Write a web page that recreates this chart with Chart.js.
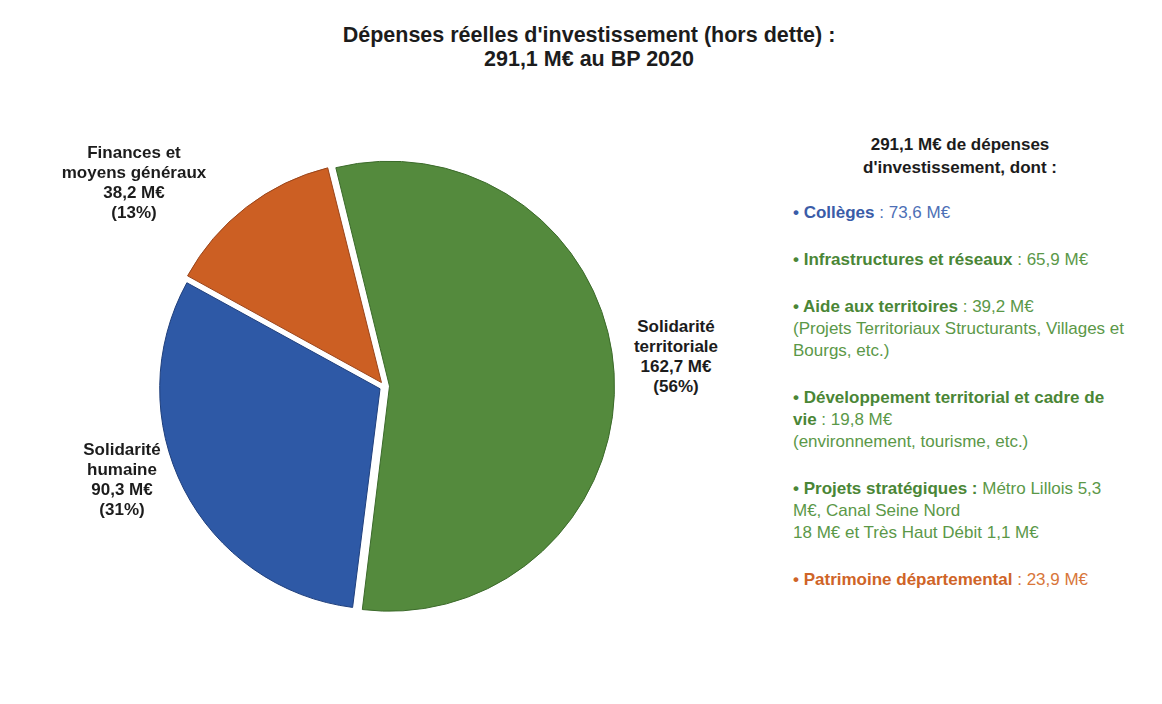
<!DOCTYPE html>
<html lang="fr">
<head>
<meta charset="utf-8">
<title>Dépenses réelles d'investissement – BP 2020</title>
<script src="https://cdn.jsdelivr.net/npm/chart.js@4.4.1/dist/chart.umd.min.js"></script>
<style>
  html, body { margin: 0; padding: 0; background: #ffffff; }
  #wrap { position: relative; width: 1162px; height: 704px; overflow: hidden;
          font-family: 'Liberation Sans', Arial, sans-serif; color: #1c1c1c; }
  #title { position: absolute; left: 0; top: 23px; width: 1178px; text-align: center;
           font-weight: bold; font-size: 21.5px; line-height: 24px; }
  #pieBox { position: absolute; left: 144px; top: 146px; width: 481px; height: 481px; }
  .lbl { position: absolute; transform: translateX(-50%); text-align: center;
         font-weight: bold; font-size: 17px; line-height: 20px; white-space: nowrap; }
  #panelHead { position: absolute; left: 840px; top: 133px; width: 240px; text-align: center;
               font-weight: bold; font-size: 17px; line-height: 23px; }
  #panel { position: absolute; left: 793px; top: 202px; width: 369px;
           font-size: 17px; line-height: 22px; }
  #panel .item { margin-bottom: 25px; white-space: nowrap; }
  #panel b { font-weight: bold; }
  .blue { color: #3a5ca8; } .blue span { color: #4d6fb6; }
  .green { color: #4a8636; } .green span { color: #5b9848; }
  .orange { color: #cf6427; } .orange span { color: #d8763a; }
</style>
</head>
<body>
<div id="wrap">
  <div id="title">Dépenses réelles d'investissement (hors dette) :<br>291,1 M€ au BP 2020</div>
  <div id="pieBox"><canvas id="pieChart"></canvas></div>
  <div id="labels"></div>
  <div id="panelHead">291,1 M€ de dépenses<br>d'investissement, dont :</div>
  <div id="panel">
    <div class="item blue"><b>• Collèges</b><span> : 73,6 M€</span></div>
    <div class="item green"><b>• Infrastructures et réseaux</b><span> : 65,9 M€</span></div>
    <div class="item green"><b>• Aide aux territoires</b><span> : 39,2 M€<br>(Projets Territoriaux Structurants, Villages et<br>Bourgs, etc.)</span></div>
    <div class="item green"><b>• Développement territorial et cadre de<br>vie</b><span> : 19,8 M€<br>(environnement, tourisme, etc.)</span></div>
    <div class="item green"><b>• Projets stratégiques :</b><span> Métro Lillois 5,3<br>M€, Canal Seine Nord<br>18 M€ et Très Haut Débit 1,1 M€</span></div>
    <div class="item orange"><b>• Patrimoine départemental</b><span> : 23,9 M€</span></div>
  </div>
</div>
<script>
// --- données du graphique ---
const categories = ['Solidarité territoriale', 'Solidarité humaine', 'Finances et moyens généraux'];
const labelLines = [['Solidarité', 'territoriale'], ['Solidarité', 'humaine'], ['Finances et', 'moyens généraux']];
const amounts = [162.7, 90.3, 38.2];   // M€
const shares = [56, 31, 13];           // %

// couleurs des parts
const fillColors = ['#548a3d', '#2e59a6', '#cc5f23'];
const edgeColors = ['#3b6a2a', '#1f3f7c', '#99441a'];

// position des étiquettes (centre x, haut y)
const labelPos = [[676, 317], [122, 440], [134, 143]];

const fmt = v => v.toFixed(1).replace('.', ',');

const labelsDiv = document.getElementById('labels');
categories.forEach((c, i) => {
    const d = document.createElement('div');
    d.className = 'lbl';
    d.style.left = labelPos[i][0] + 'px';
    d.style.top = labelPos[i][1] + 'px';
    d.innerHTML = labelLines[i].join('<br>') + '<br>' + fmt(amounts[i]) + ' M€<br>(' + shares[i] + '%)';
    labelsDiv.appendChild(d);
});

new Chart(document.getElementById('pieChart').getContext('2d'), {
    type: 'pie',
    data: {
        labels: categories,
        datasets: [{
            data: amounts,
            backgroundColor: fillColors,
            borderColor: edgeColors,
            borderWidth: 1,
            hoverBorderWidth: 1,
            offset: 20,
            hoverOffset: 20
        }]
    },
    options: {
        responsive: true,
        maintainAspectRatio: false,
        animation: false,
        rotation: -14,
        layout: { padding: 10 },
        plugins: {
            legend: { display: false },
            tooltip: { enabled: false },
            title: { display: false }
        }
    }
});
</script>
</body>
</html>
